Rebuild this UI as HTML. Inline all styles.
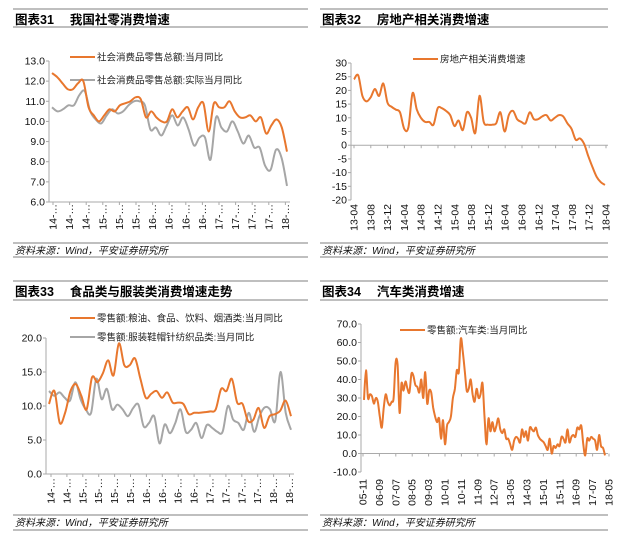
<!DOCTYPE html>
<html><head><meta charset="utf-8">
<style>
body{margin:0;background:#fff;}
svg{display:block;font-family:"Liberation Sans","Noto Sans CJK SC",sans-serif;}
.t{font-size:12.5px;font-weight:bold;fill:#000;}
.tk{font-size:10.5px;fill:#111;}
.lg{font-size:9.5px;fill:#222;}
.src{font-size:10px;font-style:italic;fill:#111;}
</style></head><body>
<svg id="s" width="620" height="547" viewBox="0 0 620 547"></svg>
<script>
// Chart 31
const c31Labels=["14-…","14-…","14-…","15-…","15-…","15-…","16-…","16-…","16-…","16-…","17-…","17-…","17-…","17-…","18-…"];
const c31Ticks=["13.0","12.0","11.0","10.0","9.0","8.0","7.0","6.0"];
const c31Nominal=[12.4,12.2,11.9,11.6,11.6,11.9,12.0,10.7,10.3,10.0,10.3,10.6,10.5,10.8,10.9,11.0,11.2,11.1,10.2,10.5,10.2,10.0,10.0,10.6,10.2,10.5,10.7,10.1,10.7,10.9,9.5,10.9,10.7,10.7,11.0,10.5,10.2,10.2,10.3,10.0,10.2,9.4,9.8,10.1,9.7,8.5];
const c31Real=[10.7,10.5,10.6,10.8,10.8,11.3,11.5,10.5,10.1,9.9,10.3,10.6,10.4,10.5,10.8,11.0,11.0,10.8,9.6,9.7,9.3,9.8,10.3,9.8,10.2,9.6,8.8,9.2,9.2,8.1,10.2,9.7,9.5,10.0,9.5,8.9,9.3,8.7,8.7,7.8,7.6,8.6,8.2,6.8];
// Chart 32
const c32Labels=["13-04","13-08","13-12","14-04","14-08","14-12","15-04","15-08","15-12","16-04","16-08","16-12","17-04","17-08","17-12","18-04"];
const c32Ticks=["30","25","20","15","10","5","0","-5","-10","-15","-20"];
const c32Values=[24,25.5,18,16,17.5,20.5,18,22.5,15.5,14,13,12,6,6.5,19,13,10,8.5,8.5,7.5,13.5,13.5,12.5,11,7,9,5.5,12,10,4.5,18,8.5,7.5,7.5,8,12,5,11,12.5,9.5,8.5,8,12,9.5,9.5,10.5,11,9,10,11,10.5,8,6,2,2.5,0.5,-4,-8,-11.5,-13.5,-14.5];
// Chart 33
const c33Labels=["14-…","14-…","15-…","15-…","15-…","15-…","16-…","16-…","16-…","16-…","17-…","17-…","17-…","17-…","18-…","18-…"];
const c33Ticks=["20.0","15.0","10.0","5.0","0.0"];
const c33Food=[10.3,12.2,7.5,9,12.2,13.2,11.5,9.5,14.2,13.5,14.8,16.7,14.5,19.2,16,16,17,14,11.2,11.8,12.2,11.2,12,10.5,10.5,10.3,8.8,9,9,9.1,9.2,9.5,12.5,12.2,14,10.5,10.3,7.8,8,9.7,6.8,8.5,8.8,9.3,10.8,8.5];
const c33Cloth=[12.2,11.5,12,11.2,10.8,13.5,11,9.5,9,14,11,12.5,9.5,10.2,9.5,8.5,9.7,10.2,7,7.5,8.5,4.5,7.3,6,7.5,9.5,6.2,6.5,7.5,5.3,7.2,6.8,6.2,6.2,10,8,7.5,6.5,9,6.2,8.5,9.8,9.5,7.8,15,9,6.5];
// Chart 34
const c34Labels=["05-11","06-09","07-07","08-05","09-03","10-01","10-11","11-09","12-07","13-05","14-03","15-01","15-11","16-09","17-07","18-05"];
const c34Ticks=["70.0","60.0","50.0","40.0","30.0","20.0","10.0","0.0","-10.0"];
const c34Values=[29,45,30,32,31,27,30,28,20,14,25,32,28,26,28,30,49,48,22,38,34,39,35,33,43,42,37,36,33,40,30,44,27,34,33,25,20,17,19,8,18,5,15,17,20,30,35,45,44,62,55,45,34,35,40,32,28,35,30,32,38,20,5,19,12,17,12,15,19,13,11,13,8,8,5,2,7,9,8,6,13,9,12,7,14,13,12,14,10,8,7,6,4,2,8,0,4,3,5,4,9,8,6,13,6,9,10,9,14,13,15,5,-1,8,7,9,8,7,2,10,4,3,-1];

const NS="http://www.w3.org/2000/svg";
const svg=document.getElementById('s');
function mk(tag,attrs,parent,txt){const e=document.createElementNS(NS,tag);for(const k in attrs)e.setAttribute(k,attrs[k]);if(txt!==undefined)e.textContent=txt;(parent||svg).appendChild(e);return e;}
const OR="#e8772e",GR="#a6a6a6";

function frame(g,x0,x1,yTop,yUnder,yF1,yF2,title){
  let e;
  e=mk('line',{x1:x0,x2:x1,y1:yTop,y2:yTop,stroke:'#999','stroke-width':1.2},g);
  
  e=mk('text',{x:x0+2,y:yTop+15,class:'t'},g,title);
  
  e=mk('line',{x1:x0,x2:x1,y1:yUnder,y2:yUnder,stroke:'#999','stroke-width':1.2},g);
  
  e=mk('line',{x1:x0,x2:x1,y1:yF1,y2:yF1,stroke:'#999','stroke-width':1.2},g);
  
  e=mk('text',{x:x0+2,y:yF1+11,class:'src'},g,'资料来源：Wind，平安证券研究所');
  
  e=mk('line',{x1:x0,x2:x1,y1:yF2,y2:yF2,stroke:'#999','stroke-width':1.2},g);
  
}
function smooth(pts){
  let d='M'+pts[0][0].toFixed(1)+','+pts[0][1].toFixed(1);
  for(let i=0;i<pts.length-1;i++){
    const p0=pts[i-1]||pts[i],p1=pts[i],p2=pts[i+1],p3=pts[i+2]||p2;
    const c1x=p1[0]+(p2[0]-p0[0])/6,c1y=p1[1]+(p2[1]-p0[1])/6;
    const c2x=p2[0]-(p3[0]-p1[0])/6,c2y=p2[1]-(p3[1]-p1[1])/6;
    d+=' C'+c1x.toFixed(1)+','+c1y.toFixed(1)+' '+c2x.toFixed(1)+','+c2y.toFixed(1)+' '+p2[0].toFixed(1)+','+p2[1].toFixed(1);
  }
  return d;
}
function panel(o){
  const g=mk('g',{});
  
  frame(g,o.fx0,o.fx1,o.fyTop,o.fyUnder,o.fyF1,o.fyF2,o.title);
  const ys=v=>o.y0+(o.vmax-v)/(o.vmax-o.vmin)*(o.y1-o.y0);
  let e=mk('line',{x1:o.ax,x2:o.ax,y1:o.y0,y2:o.y1,stroke:'#aaa'},g);
  
  o.ticks.forEach(t=>{
    const y=ys(parseFloat(t));
    const tt=mk('text',{x:o.ax-4,y:y+3.5,'text-anchor':'end',class:'tk'},g,t);
    
    const tl=mk('line',{x1:o.ax-3,x2:o.ax,y1:y,y2:y,stroke:'#aaa'},g);
    
  });
  const xa=ys(o.xAxisAt);
  e=mk('line',{x1:o.ax,x2:o.px1,y1:xa,y2:xa,stroke:'#aaa'},g);
  
  o.labels.forEach((l,i)=>{
    const x=o.lx0+i*o.lstep;
    const tl=mk('line',{x1:x,x2:x,y1:xa,y2:xa+3,stroke:'#aaa'},g);
    
    const tt=mk('text',{x:0,y:0,'text-anchor':'end',class:'tk',transform:'translate('+(x+3.5)+','+(o.ly)+') rotate(-90)'},g,l);
    
  });
  o.series.forEach(s=>{
    const n=s.vals.length;
    const pts=s.vals.map((v,i)=>[o.ax+3+i*(o.px1-o.ax-6)/(n-1),ys(v)]);
    const p=mk('path',{d:smooth(pts),fill:'none',stroke:s.color,'stroke-width':2,'stroke-linejoin':'round'},g);
    
    const ll=mk('line',{x1:s.lx,x2:s.lx+25,y1:s.ly,y2:s.ly,stroke:s.color,'stroke-width':2},g);
    
    const lt=mk('text',{x:s.lx+27,y:s.ly+3.5,class:'lg'},g,s.label);
    
  });
}
panel({name:'chart-31',title:'图表31　 我国社零消费增速',fx0:13,fx1:308,fyTop:9,fyUnder:27,fyF1:243,fyF2:257,
  ax:49,px1:290,y0:61,y1:202,vmax:13,vmin:6,xAxisAt:6,ticks:c31Ticks,labels:c31Labels,lx0:53,lstep:16.6,ly:204,
  series:[{name:'real-growth-line',vals:c31Real,color:GR,lx:70,ly:80,label:'社会消费品零售总额:实际当月同比'},
          {name:'nominal-growth-line',vals:c31Nominal,color:OR,lx:70,ly:57,label:'社会消费品零售总额:当月同比'}]});
panel({name:'chart-32',title:'图表32　 房地产相关消费增速',fx0:320,fx1:608,fyTop:9,fyUnder:27,fyF1:243,fyF2:257,
  ax:351,px1:608,y0:63,y1:200,vmax:30,vmin:-20,xAxisAt:0,ticks:c32Ticks,labels:c32Labels,lx0:354,lstep:16.8,ly:204,
  series:[{name:'property-consumption-line',vals:c32Values,color:OR,lx:413,ly:59,label:'房地产相关消费增速'}]});
panel({name:'chart-33',title:'图表33　 食品类与服装类消费增速走势',fx0:13,fx1:308,fyTop:281,fyUnder:300,fyF1:515,fyF2:530,
  ax:46,px1:294,y0:338,y1:474,vmax:20,vmin:0,xAxisAt:0,ticks:c33Ticks,labels:c33Labels,lx0:51,lstep:15.9,ly:478,
  series:[{name:'clothing-line',vals:c33Cloth,color:GR,lx:70,ly:337,label:'零售额:服装鞋帽针纺织品类:当月同比'},
          {name:'food-line',vals:c33Food,color:OR,lx:70,ly:318,label:'零售额:粮油、食品、饮料、烟酒类:当月同比'}]});
panel({name:'chart-34',title:'图表34　 汽车类消费增速',fx0:320,fx1:608,fyTop:281,fyUnder:300,fyF1:515,fyF2:530,
  ax:361,px1:608,y0:324,y1:472,vmax:70,vmin:-10,xAxisAt:0,ticks:c34Ticks,labels:c34Labels,lx0:363,lstep:16.4,ly:479,
  series:[{name:'auto-consumption-line',vals:c34Values,color:OR,lx:400,ly:330,label:'零售额:汽车类:当月同比'}]});
</script>
</body></html>
